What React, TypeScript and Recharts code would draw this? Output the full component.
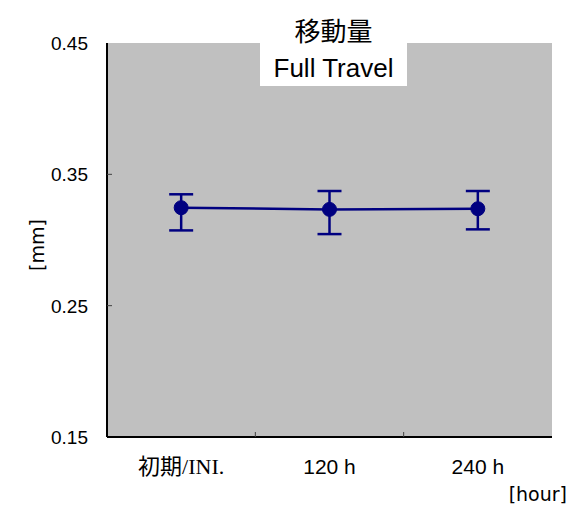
import React from 'react';
import { ComposedChart, Line, XAxis, YAxis, ErrorBar, CartesianGrid } from 'recharts';

const categories = ['初期/INI.', '120 h', '240 h'];
const means = [0.3246, 0.3233, 0.3238];
const errLow = [0.0173, 0.0188, 0.0157];
const errHigh = [0.0102, 0.014, 0.0135];
const yTicks = [0.15, 0.25, 0.35, 0.45];
const titleJa = '移動量';
const titleEn = 'Full Travel';
const yUnit = '[mm]';
const xUnit = '[hour]';

const data = categories.map((c, i) => ({
  pos: i + 0.5,
  name: c,
  value: means[i],
  err: [errLow[i], errHigh[i]],
}));

const xTicks: number[] = [];
categories.forEach((_, i) => {
  if (i > 0) xTicks.push(i);
  xTicks.push(i + 0.5);
});

const XTick = (props: any) => {
  const { x, y, payload } = props;
  const v = payload.value as number;
  if (Number.isInteger(v)) {
    return <line x1={x} x2={x} y1={y} y2={y - 5} stroke="#404040" strokeWidth={1} />;
  }
  const label = categories[Math.floor(v)];
  const cjk = /[^\x00-\x7F]/.test(label);
  return (
    <text
      x={x}
      y={y + 37}
      textAnchor="middle"
      fontSize={cjk ? 22 : 21}
      fill="#000"
      fontFamily={cjk ? "'Liberation Serif','Noto Sans CJK JP'" : "'Liberation Sans', Arial"}
    >
      {label}
    </text>
  );
};

const YTick = (props: any) => {
  const { x, y, payload } = props;
  const v = payload.value as number;
  return (
    <g>
      {v > yTicks[0] && v < yTicks[yTicks.length - 1] ? (
        <line x1={x} x2={x + 5} y1={y} y2={y} stroke="#404040" strokeWidth={1} />
      ) : null}
      <text x={x - 19} y={y} dy="0.36em" textAnchor="end" fontSize={19} fill="#000" fontFamily="'Liberation Sans', Arial">
        {v.toFixed(2)}
      </text>
    </g>
  );
};

export default function App() {
  return (
    <div style={{ position: 'absolute', left: 0, top: 0, width: 581, height: 510, background: '#fff' }}>
      <ComposedChart width={581} height={510} data={data} margin={{ top: 43, right: 29, bottom: 33, left: 0 }}>
        <CartesianGrid xAxisId="main" yAxisId="main" fill="#C0C0C0" stroke="none" horizontal={false} vertical={false} />
        <XAxis
          xAxisId="top"
          orientation="top"
          type="number"
          domain={[0, 1]}
          height={0}
          tick={false}
          tickLine={false}
          axisLine={{ stroke: '#808080', strokeWidth: 2 }}
        />
        <YAxis
          yAxisId="right"
          orientation="right"
          type="number"
          domain={[0, 1]}
          width={0}
          tick={false}
          tickLine={false}
          axisLine={{ stroke: '#808080', strokeWidth: 2 }}
        />
        <XAxis
          xAxisId="main"
          dataKey="pos"
          type="number"
          domain={[0, categories.length]}
          ticks={xTicks}
          interval={0}
          height={40}
          tickSize={0}
          tickMargin={0}
          tickLine={false}
          tick={<XTick />}
          axisLine={{ stroke: '#000', strokeWidth: 2 }}
        />
        <YAxis
          yAxisId="main"
          type="number"
          domain={[yTicks[0], yTicks[yTicks.length - 1]]}
          ticks={yTicks}
          interval={0}
          width={107}
          tickSize={0}
          tickMargin={0}
          tickLine={false}
          tick={<YTick />}
          axisLine={{ stroke: '#000', strokeWidth: 2 }}
        />
        <Line
          xAxisId="main"
          yAxisId="main"
          dataKey="value"
          stroke="#000080"
          strokeWidth={2.5}
          dot={{ r: 7, fill: '#000080', stroke: '#000080', strokeWidth: 1 }}
          isAnimationActive={false}
        >
          <ErrorBar dataKey="err" direction="y" width={12} stroke="#000080" strokeWidth={2.5} isAnimationActive={false} />
        </Line>
      </ComposedChart>
      <div
        style={{
          position: 'absolute',
          left: 260,
          top: 0,
          width: 147,
          height: 86,
          background: '#fff',
          textAlign: 'center',
        }}
      >
        <div style={{ position: 'absolute', left: 0, right: 0, top: 12, fontSize: 26, lineHeight: '36px', fontFamily: "'Noto Sans CJK JP'" }}>
          {titleJa}
        </div>
        <div style={{ position: 'absolute', left: 0, right: 0, top: 52, fontSize: 26, lineHeight: '32px', fontFamily: "'Liberation Sans', Arial" }}>
          {titleEn}
        </div>
      </div>
      <div
        style={{
          position: 'absolute',
          left: 37,
          top: 245,
          transform: 'translate(-50%, -50%) rotate(-90deg)',
          fontSize: 19,
          lineHeight: '24px',
          whiteSpace: 'nowrap',
          fontFamily: "'DejaVu Sans'",
        }}
      >
        {yUnit}
      </div>
      <div
        style={{
          position: 'absolute',
          right: 14,
          top: 482,
          fontSize: 19,
          lineHeight: '24px',
          whiteSpace: 'nowrap',
          fontFamily: "'DejaVu Sans'",
        }}
      >
        {xUnit}
      </div>
    </div>
  );
}
